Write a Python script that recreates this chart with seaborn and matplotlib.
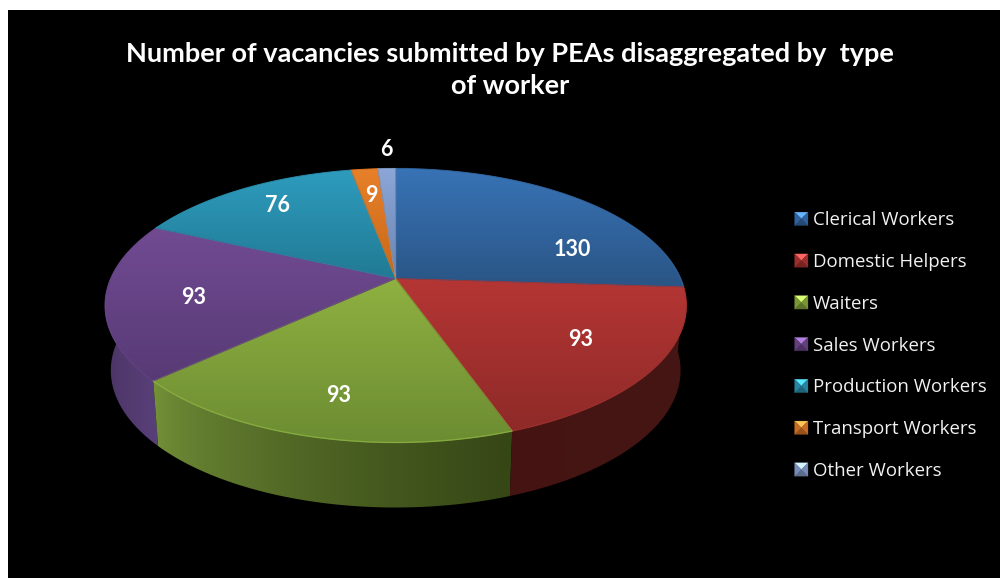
import numpy as np
import matplotlib
matplotlib.use("Agg")
import matplotlib.pyplot as plt
import seaborn as sns
from matplotlib.colors import LinearSegmentedColormap, to_rgb
from matplotlib.legend_handler import HandlerBase
from matplotlib.patches import Patch, Polygon

title = "Number of vacancies submitted by PEAs disaggregated by  type\nof worker"
categories = ["Clerical Workers", "Domestic Helpers", "Waiters", "Sales Workers",
              "Production Workers", "Transport Workers", "Other Workers"]
values = [130, 93, 93, 93, 76, 9, 6]

# colours of the top face (light end, dark end) and of the side wall (left, right)
top_light = ["#3873b6", "#b53634", "#8fb141", "#724b93", "#2e9cbe", "#e8802a", "#8ca6d8"]
top_dark = ["#2a5585", "#8e2a28", "#6c8c32", "#573a75", "#217a94", "#c86818", "#6a86b0"]
side_left = {1: "#451412", 2: "#76943a", 3: "#48325f"}
side_right = {1: "#451614", 2: "#364716", 3: "#59407a"}
rim_alpha = [0.2, 0.2, 0.65, 0.15, 0.2, 0.2, 0.2]

# pie geometry on the 1000x578 canvas
CX, CY = 395.7, 278.5
A, B, K = 131.7, 285.0, 0.197
DEPTH = 65.0
BOTTOM_SCALE = 0.98


def project(theta, r=1.0, drop=0.0, scale=1.0):
    # circle seen in perspective, theta runs clockwise from 12 o'clock
    u, v = r * np.sin(theta), r * np.cos(theta)
    w = 1 + K * v
    return CX + scale * B * u / w, CY - A * v / w + drop


def gradient_fill(ax, xy, c0, c1, horizontal=False, zorder=2):
    cmap = LinearSegmentedColormap.from_list("g", [c0, c1])
    xmin, ymin = xy.min(axis=0)
    xmax, ymax = xy.max(axis=0)
    ramp = np.linspace(0, 1, 256)
    grad = ramp[None, :] ** 0.6 if horizontal else ramp[:, None]
    im = ax.imshow(grad, extent=(xmin, xmax, ymax, ymin), aspect="auto", cmap=cmap,
                   vmin=0, vmax=1, zorder=zorder, interpolation="bilinear")
    im.set_clip_path(Polygon(xy, closed=True, transform=ax.transData))
    return tuple((np.array(to_rgb(c0)) + np.array(to_rgb(c1))) / 2)


class BevelHandler(HandlerBase):
    # little bevelled square as in the office legend
    def create_artists(self, legend, orig_handle, xdescent, ydescent, width, height, fontsize, trans):
        col = np.array(orig_handle.get_facecolor()[:3])
        s = 9.6
        x0, y0 = (width - s) / 2 - xdescent, (height - s) / 2 - ydescent
        x1, y1 = x0 + s, y0 + s
        cx, cy = x0 + s / 2, y0 + s / 2
        light = np.clip(col * 1.3 + 0.12, 0, 1)
        dark = col * 0.65
        tris = [([(x0, y1), (x1, y1), (cx, cy)], light),
                ([(x0, y0), (x1, y0), (cx, cy)], dark),
                ([(x0, y0), (x0, y1), (cx, cy)], col * 0.85),
                ([(x1, y0), (x1, y1), (cx, cy)], col * 0.85)]
        return [Polygon(p, closed=True, facecolor=c, edgecolor=c, lw=0.2, transform=trans) for p, c in tris]


sns.set_theme(style="white", rc={"figure.facecolor": "white", "axes.facecolor": "black"})
plt.rcParams["font.family"] = ["Lato", "DejaVu Sans"]
palette = sns.color_palette(top_light)

fig = plt.figure(figsize=(10, 5.78), dpi=100)
ax = fig.add_axes([0.008, 0, 0.992, 568 / 578])

edges = np.cumsum([0] + values) / sum(values) * 2 * np.pi

# side wall first, top face goes over it
for i in [3, 2, 1]:
    th = np.linspace(edges[i], edges[i + 1], 150)
    x1, y1 = project(th)
    x2, y2 = project(th, drop=DEPTH, scale=BOTTOM_SCALE)
    xy = np.column_stack([np.r_[x1, x2[::-1]], np.r_[y1, y2[::-1]]])
    gradient_fill(ax, xy, side_left[i], side_right[i], horizontal=True, zorder=2)

# top face
for i in range(len(values)):
    th = np.linspace(edges[i], edges[i + 1], 200)
    x, y = project(th)
    xy = np.column_stack([np.r_[CX, x], np.r_[CY, y]])
    mid = gradient_fill(ax, xy, top_light[i], top_dark[i], zorder=3)
    ax.add_patch(Polygon(xy, closed=True, fill=False, edgecolor=mid, lw=0.6, zorder=3.5))
    # lit rim along the near edge
    rim = np.clip(np.array(to_rgb(top_dark[i])) * 1.25 + 0.03, 0, 1)
    ax.plot(x, y, color=rim, lw=1.0, alpha=rim_alpha[i], zorder=4)

label_xy = [(572, 249), (581, 340), (339, 395), (194, 297), (278, 206), (371, 196), (386, 150)]
for val, (lx, ly) in zip(values, label_xy):
    ax.text(lx, ly, str(val), color="white", fontsize=15.5, fontweight="bold",
            ha="center", va="center", zorder=6)

ax.text(510, 70.5, title, color="white", fontsize=19.5, fontweight="bold", ha="center",
        va="center", linespacing=1.4, zorder=6)

handles = [Patch(facecolor=c, label=n) for c, n in zip(palette, categories)]
leg = ax.legend(handles=handles, loc="upper left", frameon=False,
                handler_map={Patch: BevelHandler()}, prop={"family": "Open Sans", "size": 13.4},
                labelcolor="#f2f2f2", handlelength=1.0, handleheight=1.0, handletextpad=0.13,
                labelspacing=1.24, borderpad=0, borderaxespad=0)
leg.set_bbox_to_anchor((792 / 1000, 1 - 210.5 / 578), transform=fig.transFigure)
leg.set_zorder(7)

ax.set_xlim(8, 1000)
ax.set_ylim(578, 10)
ax.set_xticks([])
ax.set_yticks([])
for sp in ax.spines.values():
    sp.set_visible(False)

fig.savefig("out.png", dpi=100, facecolor="white")
